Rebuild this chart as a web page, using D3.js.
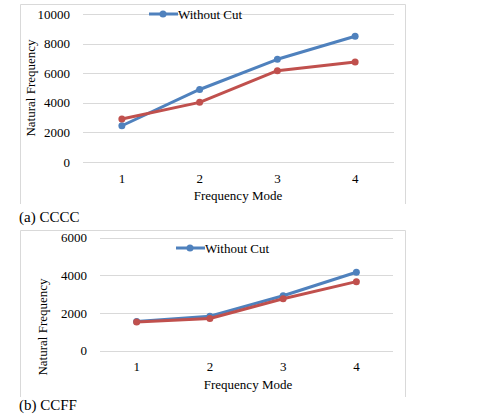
<!DOCTYPE html>
<html>
<head>
<meta charset="utf-8">
<script src="https://cdn.jsdelivr.net/npm/d3@7"></script>
<style>
  body { margin: 0; background: #fff; }
  text { font-family: "Liberation Serif", "Times New Roman", serif; fill: #000; }
</style>
</head>
<body>
<div class="chart"></div>
<script>
// data
var modes = ["1", "2", "3", "4"];

var ccccWithoutCut = [2450, 4900, 6940, 8500];
var ccccWithCut = [2900, 4030, 6170, 6750];
var ccccTicks = [0, 2000, 4000, 6000, 8000, 10000];

var ccffWithoutCut = [1550, 1830, 2910, 4160];
var ccffWithCut = [1520, 1710, 2750, 3660];
var ccffTicks = [0, 2000, 4000, 6000];

var legendLabel = "Without Cut";
var blue = "#4f81bd";
var red = "#c0504d";

var svg = d3.select(".chart")
  .append("svg")
  .attr("width", 481)
  .attr("height", 414);

function drawChart(opts) {
  var g = svg.append("g");

  // frame (left, top, right only - bottom is cut off in the source)
  g.append("path")
    .attr("d", "M" + opts.box.left + "," + opts.box.bottom +
      "V" + opts.box.top + "H" + opts.box.right + "V" + opts.box.bottom)
    .attr("fill", "none")
    .attr("stroke", "#d9d9d9")
    .attr("stroke-width", 1);

  var x = d3.scaleBand()
    .domain(modes)
    .range([opts.plot.left, opts.plot.right]);

  var y = d3.scaleLinear()
    .domain([0, d3.max(opts.ticks)])
    .range([opts.plot.bottom, opts.plot.top]);

  // gridlines
  g.selectAll(".grid")
    .data(opts.ticks)
    .enter().append("line")
    .attr("x1", opts.plot.left)
    .attr("x2", opts.plot.right)
    .attr("y1", function (d) { return Math.round(y(d)) + 0.5; })
    .attr("y2", function (d) { return Math.round(y(d)) + 0.5; })
    .attr("stroke", "#d9d9d9")
    .attr("stroke-width", 1);

  // y tick labels
  g.selectAll(".ytick")
    .data(opts.ticks)
    .enter().append("text")
    .attr("x", opts.plot.left - 13)
    .attr("y", function (d) { return y(d); })
    .attr("dy", "0.35em")
    .attr("text-anchor", "end")
    .style("font-size", "13px")
    .text(function (d) { return d; });

  // x tick labels
  g.selectAll(".xtick")
    .data(modes)
    .enter().append("text")
    .attr("x", function (d) { return x(d) + x.bandwidth() / 2; })
    .attr("y", opts.plot.bottom + 16)
    .attr("dy", "0.35em")
    .attr("text-anchor", "middle")
    .style("font-size", "13px")
    .text(function (d) { return d; });

  // axis titles
  g.append("text")
    .attr("x", opts.xTitle[0])
    .attr("y", opts.xTitle[1])
    .attr("dy", "0.35em")
    .attr("text-anchor", "middle")
    .style("font-size", "13px")
    .text("Frequency Mode");

  g.append("text")
    .attr("transform", "translate(" + opts.yTitle[0] + "," + opts.yTitle[1] + ") rotate(-90)")
    .attr("dy", "0.35em")
    .attr("text-anchor", "middle")
    .style("font-size", "13px")
    .text("Natural Frequency");

  var line = d3.line()
    .x(function (d, i) { return x(modes[i]) + x.bandwidth() / 2; })
    .y(function (d) { return y(d); });

  var series = [
    { values: opts.withoutCut, color: blue },
    { values: opts.withCut, color: red }
  ];

  series.forEach(function (s) {
    g.append("path")
      .datum(s.values)
      .attr("d", line)
      .attr("fill", "none")
      .attr("stroke", s.color)
      .attr("stroke-width", 3)
      .attr("stroke-linejoin", "round");

    g.selectAll(null)
      .data(s.values)
      .enter().append("circle")
      .attr("cx", function (d, i) { return x(modes[i]) + x.bandwidth() / 2; })
      .attr("cy", function (d) { return y(d); })
      .attr("r", 3.5)
      .attr("fill", s.color);
  });

  // legend (only the first series is shown in the source)
  var lg = g.append("g")
    .attr("transform", "translate(" + opts.legend[0] + "," + opts.legend[1] + ")");
  lg.append("rect")
    .attr("x", -2)
    .attr("y", -7)
    .attr("width", 72)
    .attr("height", 14)
    .attr("fill", "#fff")
    .attr("opacity", opts.legendBg ? 1 : 0);
  lg.append("line")
    .attr("x1", -29).attr("x2", 0)
    .attr("stroke", blue)
    .attr("stroke-width", 3);
  lg.append("circle")
    .attr("cx", -15)
    .attr("r", 3.5)
    .attr("fill", blue);
  lg.append("text")
    .attr("x", 0)
    .attr("dy", "0.35em")
    .style("font-size", "13px")
    .text(legendLabel);

  // caption
  svg.append("text")
    .attr("x", 19)
    .attr("y", opts.caption[1])
    .attr("dy", "0.35em")
    .style("font-size", "15px")
    .text(opts.caption[0]);
}

drawChart({
  box: { left: 20.5, top: 4.5, right: 405.5, bottom: 204 },
  plot: { left: 83, right: 394, top: 14, bottom: 162 },
  ticks: ccccTicks,
  withoutCut: ccccWithoutCut,
  withCut: ccccWithCut,
  xTitle: [238, 195],
  yTitle: [30, 88],
  legend: [178, 14],
  legendBg: false,
  caption: ["(a) CCCC", 217]
});

drawChart({
  box: { left: 20.5, top: 230.5, right: 405.5, bottom: 397 },
  plot: { left: 100, right: 393, top: 237.5, bottom: 350.7 },
  ticks: ccffTicks,
  withoutCut: ccffWithoutCut,
  withCut: ccffWithCut,
  xTitle: [248, 384],
  yTitle: [42, 327],
  legend: [205, 248],
  legendBg: false,
  caption: ["(b) CCFF", 405]
});
</script>
</body>
</html>
